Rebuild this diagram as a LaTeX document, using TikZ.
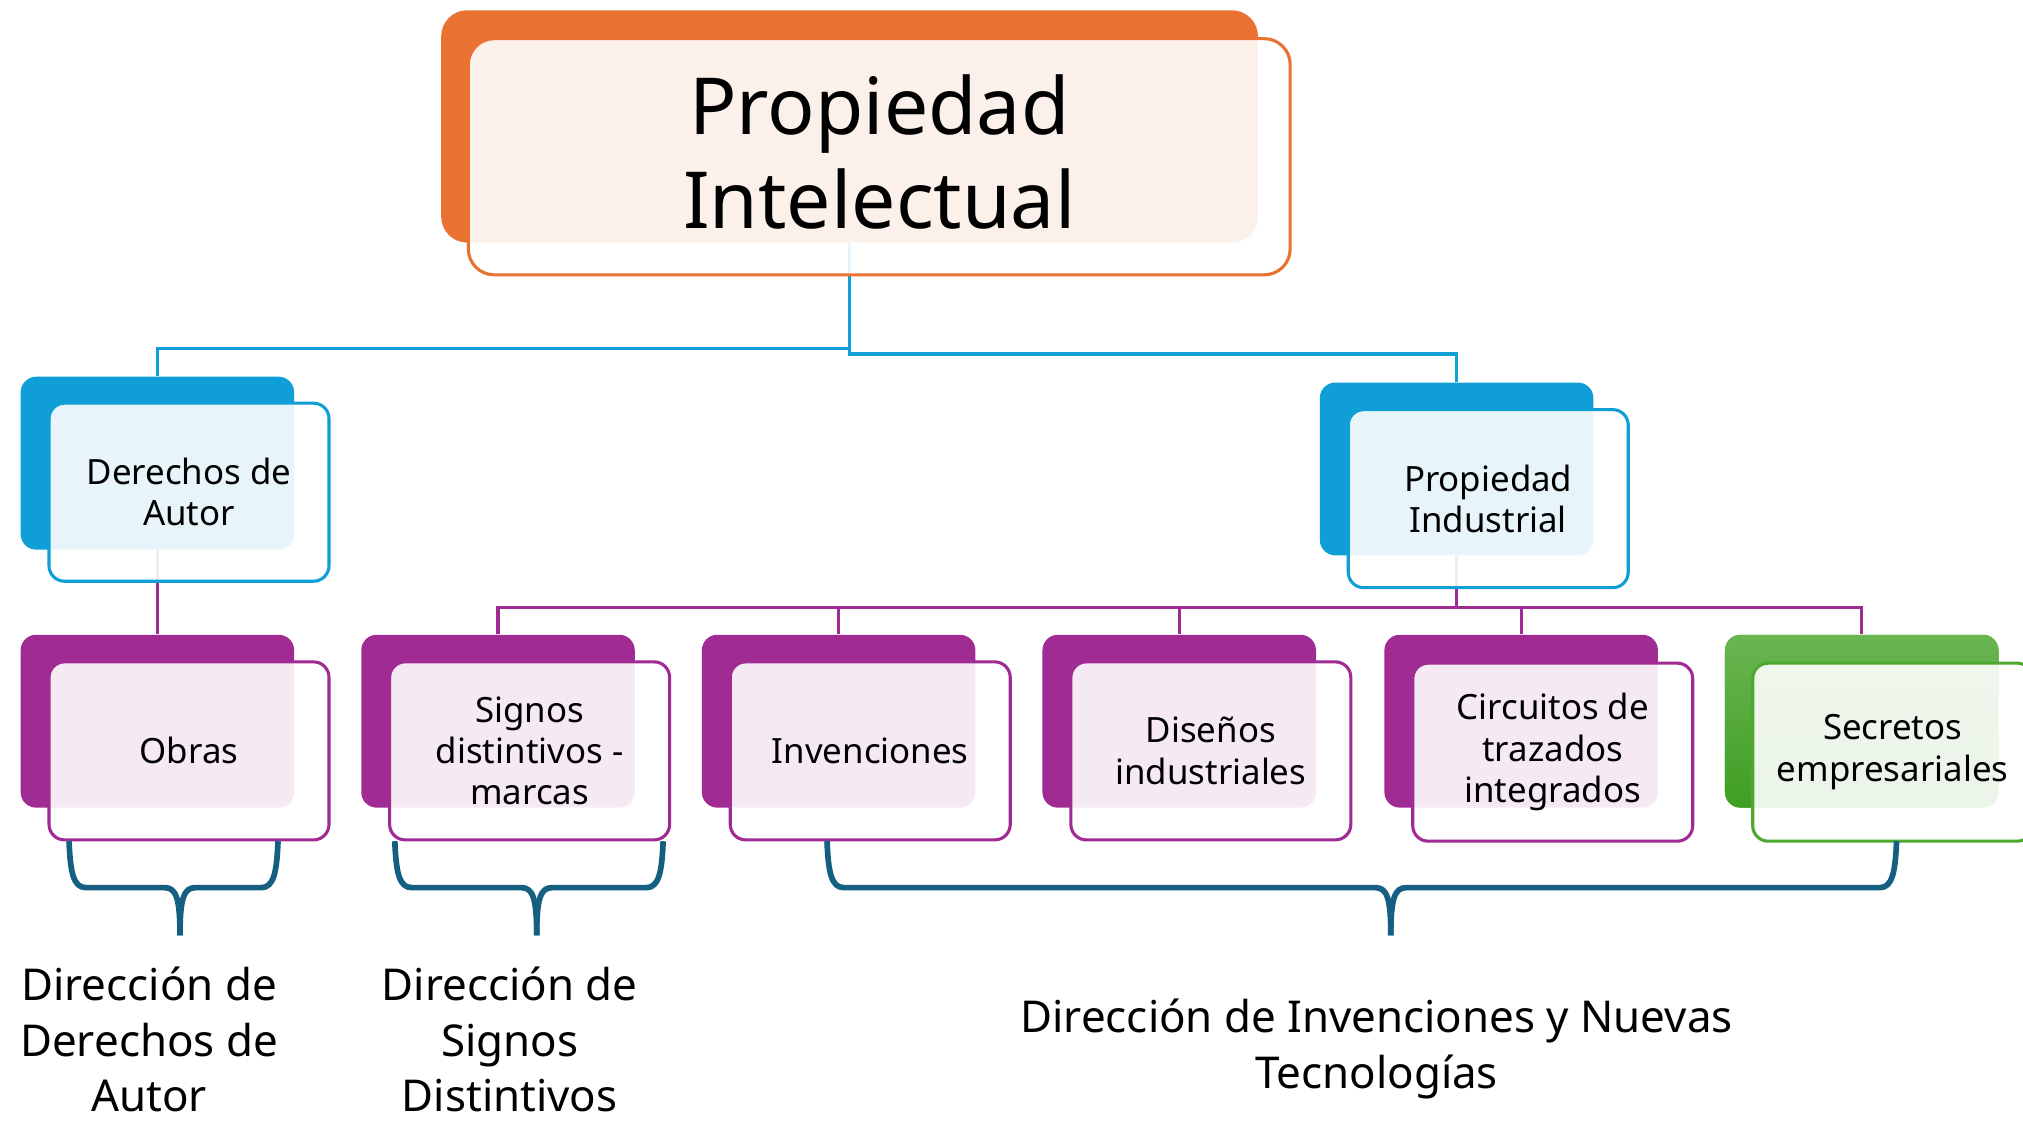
\documentclass[tikz,border=0pt]{standalone}
\usepackage{fontspec}
\setmainfont{Noto Sans}
\usetikzlibrary{calc}
\definecolor{cOrange}{HTML}{E97132}
\definecolor{cBlue}{HTML}{0F9ED5}
\definecolor{cMag}{HTML}{A02B93}
\definecolor{cGreen}{HTML}{4EA72E}
\definecolor{cGreenL}{HTML}{6AB552}
\definecolor{cGreenD}{HTML}{3F9E22}
\definecolor{cBrace}{HTML}{156082}
\pgfdeclarelayer{bg}
\pgfsetlayers{bg,main}
\begin{document}
\begin{tikzpicture}[x=0.5pt,y=-0.5pt,
  backbox/.style={rectangle, rounded corners=6pt, minimum width=106pt, minimum height=67pt, inner sep=0pt, fill=#1},
  frontbox/.style={rectangle, rounded corners=6pt, minimum width=108.5pt, minimum height=69pt, inner sep=0pt,
     draw=#1, line width=1.2pt, fill=white, fill opacity=0.9, text opacity=1, align=center,
     font=\fontsize{13.5}{16}\selectfont, text=black},
  conn/.style={line width=1.2pt},
  bracestyle/.style={draw=cBrace, line width=2.2pt, line join=round},
  lab/.style={align=center, font=\fontsize{17}{21.5}\selectfont, text=black, inner sep=0pt}]
\useasboundingbox (0,0) rectangle (1568,870.4);
\clip (0,0) rectangle (1568,870.4);
\begin{pgfonlayer}{bg}
\fill[white] (0,0) rectangle (1568,870.4);
\end{pgfonlayer}

% title
\node[backbox=cOrange, minimum width=316.5pt, minimum height=90pt, rounded corners=10pt] (tb) at (658.5,98) {};
\node[frontbox=cOrange, minimum width=318.5pt, minimum height=91.5pt, rounded corners=10pt] (t) at (681.5,121.5) {};
\node[align=center, inner sep=0pt, font=\fontsize{30.5}{36.5}\selectfont] (tt) at (681.5,118) {Propiedad\\Intelectual};

% second level
\node[backbox=cBlue] (dab) at (122,359) {};
\node[frontbox=cBlue] (da) at (146.5,381.5) {Derechos de\\Autor};
\node[backbox=cBlue] (pib) at (1129,363.5) {};
\node[frontbox=cBlue] (pi) at (1153.5,386.5) {Propiedad\\Industrial};

% third level
\node[backbox=cMag] (ob) at (122,559) {};
\node[frontbox=cMag] (o) at (146.5,582) {Obras};
\node[backbox=cMag] (sgb) at (386,559) {};
\node[frontbox=cMag] (sg) at (410.5,582) {Signos\\distintivos -\\marcas};
\node[backbox=cMag] (inb) at (650,559) {};
\node[frontbox=cMag] (in) at (674.5,582) {Invenciones};
\node[backbox=cMag] (dib) at (914,559) {};
\node[frontbox=cMag] (di) at (938.5,582) {Diseños\\industriales};
\node[backbox=cMag] (cib) at (1179,559) {};
\node[frontbox=cMag] (ci) at (1203.5,583) {Circuitos de\\trazados\\integrados};
\node[backbox=cGreen, top color=cGreenL, bottom color=cGreenD] (seb) at (1443,559) {};
\node[frontbox=cGreen] (se) at (1467,583) {Secretos\\empresariales};

% connectors
\begin{pgfonlayer}{bg}
\draw[conn, cBlue] (tb.south) -- ++(0,82) -| (dab.north);
\draw[conn, cBlue] (tb.south) -- ++(0,86) -| (pib.north);
\draw[conn, cMag] (dab.south) -- (ob.north);
\foreach \c in {sgb,inb,dib,cib,seb}{
  \draw[conn, cMag] (pib.south) -- ++(0,40) -| (\c.north);
}
\end{pgfonlayer}

% braces
\newcommand\mybrace[3]{%
 \draw[bracestyle] (#1,652) .. controls (#1+1,675) and (#1+3,688) .. (#1+13,688) -- (#3-12,688)
     .. controls (#3-3,688) and (#3,696) .. (#3,725);
 \draw[bracestyle] (#2,652) .. controls (#2-1,675) and (#2-3,688) .. (#2-13,688) -- (#3+12,688)
     .. controls (#3+3,688) and (#3,696) .. (#3,725);}
\mybrace{53.5}{215.5}{139.5}
\mybrace{306}{514}{416}
\mybrace{641}{1470}{1078}

% labels
\node[lab] (l1) at (115.5,806) {Dirección de\\Derechos de\\Autor};
\node[lab] (l2) at (395,806) {Dirección de\\Signos\\Distintivos};
\node[lab] (l3) at (1067,813) {Dirección de Invenciones y Nuevas\\Tecnologías};
\end{tikzpicture}
\end{document}
